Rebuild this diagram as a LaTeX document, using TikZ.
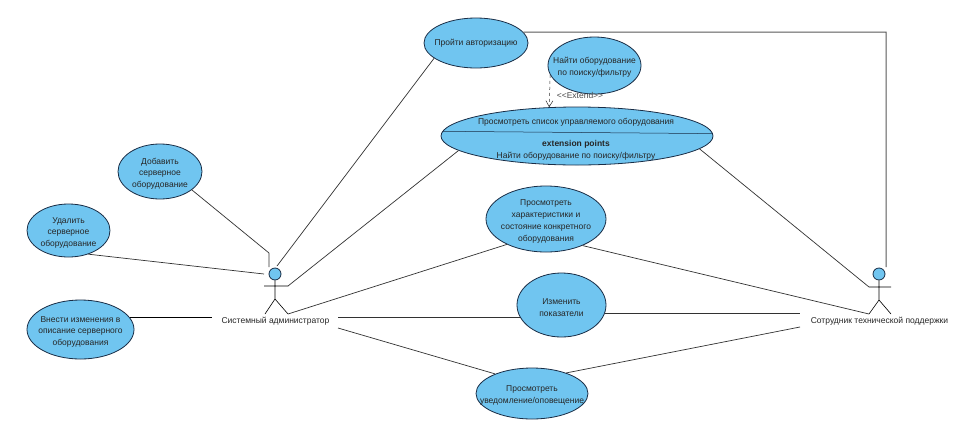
\documentclass[tikz,border=0pt]{standalone}
\usepackage{fontspec}
\setmainfont{Liberation Sans}
\definecolor{ucfill}{RGB}{112,197,240}
\definecolor{ucline}{RGB}{25,45,70}
\definecolor{conn}{RGB}{50,50,50}
\newcommand{\ucstrut}{\rule{0pt}{10.5pt}}
\tikzset{
  uc/.style={ellipse,draw=ucline,line width=0.8pt,fill=ucfill,inner sep=-16pt,align=center,font=\fontsize{8.5}{11.8}\selectfont,text=black!85},
  ucsize/.style 2 args={minimum width=#1pt,minimum height=#2pt},
  conn/.style={draw=conn,line width=0.7pt},
  stick/.style={draw=black,line width=0.6pt},
  head/.style={circle,draw=ucline,line width=0.8pt,fill=ucfill,inner sep=0pt,minimum size=12pt},
  actorlabel/.style={inner sep=0pt,font=\fontsize{8.5}{10}\selectfont,text=black!85}
}
\usetikzlibrary{shapes.geometric,arrows.meta}
\begin{document}
\begin{tikzpicture}[x=1pt,y=-1pt]
\useasboundingbox[fill=white] (0,0) rectangle (954,424);
% use cases
\node[uc,ucsize={104}{50}] (auth) at (476,43) {Пройти авторизацию};
\node[uc,ucsize={93}{57}] (find) at (594.5,65.5) {\ucstrut Найти оборудование\\по поиску/фильтру};
\node[uc,ucsize={272}{58}] (list) at (577,136) {};
\node[uc,ucsize={84}{55}] (add) at (160,171.5) {\ucstrut Добавить\\серверное\\оборудование};
\node[uc,ucsize={83}{53}] (del) at (68.5,230.5) {\ucstrut Удалить\\серверное\\оборудование};
\node[uc,ucsize={107}{59}] (edit) at (80.5,329.5) {\ucstrut Внести изменения в\\описание серверного\\оборудования};
\node[uc,ucsize={120}{66}] (char) at (546,219) {\ucstrut Просмотреть\\характеристики и\\состояние конкретного\\оборудования};
\node[uc,ucsize={89}{64}] (chg) at (561.5,305) {\ucstrut Изменить\\показатели};
\node[uc,ucsize={112}{51}] (note) at (532,393.5) {\ucstrut Просмотреть\\уведомление/оповещение};
% list compartments
\draw[draw=ucline,line width=0.5pt] (list.178.7) -- (list.1.3);
\node[actorlabel] (listname) at (576,122) {Просмотреть список управляемого оборудования};
\node[actorlabel,font=\fontsize{8.5}{10}\selectfont\bfseries] (listext) at (576,144) {extension points};
\node[actorlabel] (listpoint) at (576,156) {Найти оборудование по поиску/фильтру};
% actors
\node[head] (admhead) at (275,274) {};
\coordinate (admhip) at (275,299);
\coordinate (admarml) at (264,286);
\coordinate (admarmr) at (288,286);
\coordinate (admlegl) at (265,314);
\coordinate (admlegr) at (288,314);
\draw[stick] (admhead) -- (admhip) -- (admlegl) (admhip) -- (admlegr) (admarml) -- (admarmr);
\node[actorlabel] (admlabel) at (275.5,321.5) {Системный администратор};
\node[head] (suphead) at (879,274) {};
\coordinate (suphip) at (879,300);
\coordinate (suparml) at (869,287);
\coordinate (suparmr) at (891,287);
\coordinate (suplegl) at (869,314);
\coordinate (suplegr) at (891,314);
\draw[stick] (suphead) -- (suphip) -- (suplegl) (suphip) -- (suplegr) (suparml) -- (suparmr);
\node[actorlabel] (suplabel) at (879.5,321.5) {Сотрудник технической поддержки};
% free ends and bends
\coordinate (admtop) at (277,266);
\coordinate (addbend) at (269,253);
\coordinate (addend) at (269,267);
\coordinate (delend) at (264,274);
\coordinate (editend) at (212,316);
\coordinate (admr1) at (338,318);
\coordinate (admr2) at (338,328);
\coordinate (supl1) at (800,314);
\coordinate (supl2) at (800,327);
\coordinate (authcorner) at (886,32);
\coordinate (supend) at (886,267);
% connectors
\draw[conn] (auth.200) -- (admtop);
\draw[conn,line width=1pt,draw=black!65] (auth.13) -- (authcorner) -- (supend);
\draw[conn] (list.187) -- (admarmr);
\draw[conn] (list.-6.6) -- (suparml);
\draw[conn] (add.-30.6) -- (addbend) -- (addend);
\draw[conn] (del.-50) -- (delend);
\draw[conn,draw=black] (edit.14) -- (edit.14 -| editend);
\draw[conn] (char.213) -- (admlegr);
\draw[conn] (char.-36) -- (suplegl);
\draw[conn] (chg.196) -- (chg.196 -| admr1);
\draw[conn] (chg.-11) -- (chg.-11 -| supl1);
\draw[conn] (note.152) -- (admr2);
\draw[conn] (note.31) -- (supl2);
% extend
\draw[conn,line width=0.5pt,dashed,-{Straight Barb[length=6pt,width=7pt]}] (find.192) -- (list.134.6);
\node[inner sep=0pt,font=\fontsize{8.5}{10}\selectfont,text=black!70] (extlabel) at (580,95.5) {{<}{<}Extend{>}{>}};
\end{tikzpicture}
\end{document}
